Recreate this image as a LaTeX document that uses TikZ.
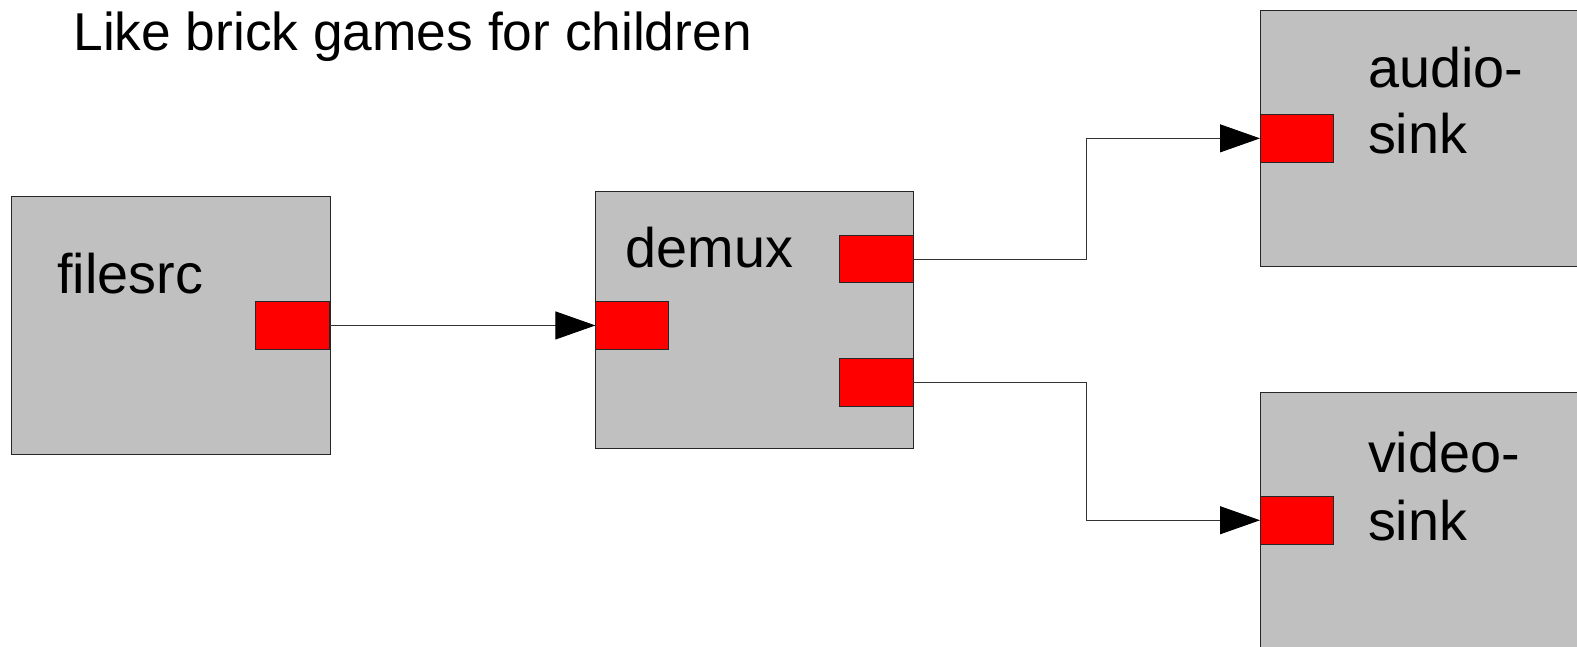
\documentclass[tikz,border=0pt]{standalone}
\usepackage{fontspec}
\setmainfont{Liberation Sans}
\usetikzlibrary{arrows.meta}
\definecolor{boxgray}{HTML}{C0C0C0}
\definecolor{portred}{HTML}{FF0000}
\tikzset{
  element/.style={draw=black!85, fill=boxgray, line width=0.9bp, anchor=north west, inner sep=0pt, outer sep=0pt},
  pad/.style={draw=black!85, fill=portred, line width=0.9bp, anchor=north west, inner sep=0pt, outer sep=0pt, minimum width=73.5bp, minimum height=47.5bp},
  lbl/.style={anchor=base west, inner sep=0pt, outer sep=0pt, font=\fontsize{56}{66}\selectfont, text=black},
  titlelbl/.style={lbl, font=\fontsize{53.5}{64}\selectfont},
  link/.style={draw=black!80, line width=0.9bp, -{Triangle[length=40bp, width=28bp, color=black, fill=black]}},
}
\begin{document}
\begin{tikzpicture}[x=1bp, y=-1bp]
\useasboundingbox (0,0) rectangle (1577,647);
\clip (0,0) rectangle (1577,647);
\fill[white] (0,0) rectangle (1577,647);
% title
\node[titlelbl] (title) at (73.4,50.3) {Like brick games for children};
% elements
\node[element, minimum width=319bp, minimum height=258bp] (filesrc) at (11,196) {};
\node[element, minimum width=317.6bp, minimum height=257.5bp] (demux) at (595.4,191) {};
\node[element, minimum width=330bp, minimum height=256.5bp] (asink) at (1260,10) {};
\node[element, minimum width=330bp, minimum height=280bp] (vsink) at (1260,392) {};
% labels
\node[lbl] (lfilesrc) at (57.3,293.7) {filesrc};
\node[lbl] (ldemux) at (625.5,267.5) {demux};
\node[lbl] (laudio) at (1368,87.5) {audio-};
\node[lbl] (laudio2) at (1368,154) {sink};
\node[lbl] (lvideo) at (1368,472.7) {video-};
\node[lbl] (lvideo2) at (1368,540) {sink};
% pads
\node[pad] (fsrc) at (255.5,301.7) {};
\node[pad] (dsink) at (595.4,301.7) {};
\node[pad] (dsrc1) at (839.5,235.3) {};
\node[pad] (dsrc2) at (839.5,358.5) {};
\node[pad] (apad) at (1260,114.6) {};
\node[pad] (vpad) at (1260,496.5) {};
% connectors
\coordinate (bx) at (1086,0);
\draw[link] (fsrc.east) -- (dsink.west);
\draw[link] (dsrc1.east) -| (bx |- apad.west) -- (apad.west);
\draw[link] (dsrc2.east) -| (bx |- vpad.west) -- (vpad.west);
\end{tikzpicture}
\end{document}
